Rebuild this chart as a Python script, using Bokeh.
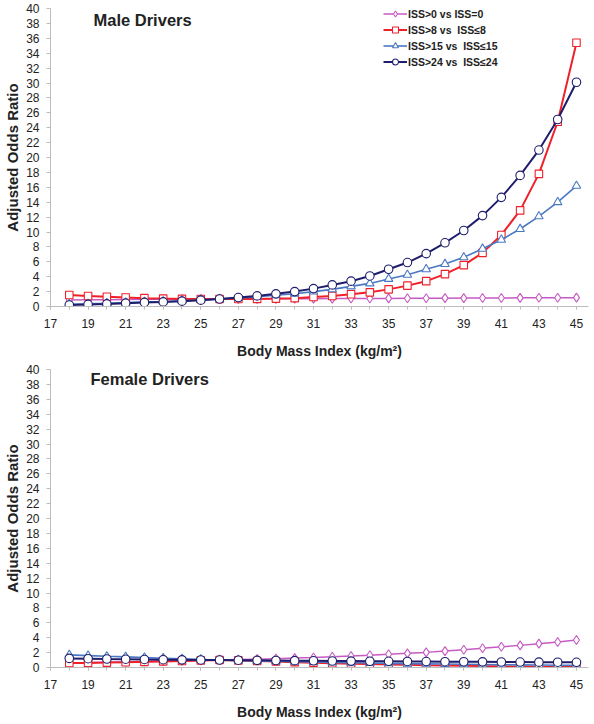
from bokeh.plotting import figure
from bokeh.models import FixedTicker, Legend, LegendItem, Label, Range1d
from bokeh.layouts import column
from bokeh.embed import file_html
from bokeh.resources import INLINE

# ---------------- data ----------------
bmi = list(range(18, 46))

series_labels = ["ISS>0 vs ISS=0", "ISS>8 vs  ISS\u22648",
                 "ISS>15 vs  ISS\u226415", "ISS>24 vs  ISS\u226424"]

male_iss0 = [0.88, 0.90, 0.92, 0.94, 0.96, 0.97, 0.98, 0.99, 1.00, 1.01,
             1.02, 1.03, 1.04, 1.05, 1.06, 1.07, 1.08, 1.09, 1.10, 1.11,
             1.12, 1.13, 1.14, 1.15, 1.16, 1.17, 1.18, 1.19]
male_iss8 = [1.55, 1.40, 1.30, 1.20, 1.12, 1.06, 1.02, 1.00, 1.00, 1.00,
             1.02, 1.06, 1.12, 1.28, 1.40, 1.65, 1.90, 2.30, 2.80, 3.40,
             4.35, 5.55, 7.20, 9.60, 12.9, 17.8, 24.8, 35.4]
male_iss15 = [0.30, 0.36, 0.43, 0.52, 0.60, 0.68, 0.78, 0.88, 1.00, 1.15,
              1.30, 1.50, 1.72, 2.00, 2.30, 2.70, 3.10, 3.70, 4.25, 5.00,
              5.70, 6.60, 7.75, 8.96, 10.4, 12.1, 14.0, 16.2]
male_iss24 = [0.20, 0.28, 0.35, 0.45, 0.55, 0.62, 0.72, 0.85, 1.00, 1.20,
              1.42, 1.70, 2.00, 2.40, 2.90, 3.40, 4.10, 5.00, 5.90, 7.10,
              8.55, 10.2, 12.2, 14.65, 17.6, 21.0, 25.1, 30.1]

female_iss0 = [0.65, 0.68, 0.72, 0.76, 0.80, 0.85, 0.90, 0.95, 1.00, 1.06,
               1.12, 1.19, 1.26, 1.34, 1.45, 1.55, 1.65, 1.78, 1.90, 2.03,
               2.20, 2.38, 2.58, 2.78, 2.97, 3.20, 3.42, 3.70]
female_iss8 = [0.60, 0.62, 0.66, 0.70, 0.76, 0.82, 0.88, 0.94, 1.00, 0.95,
               0.88, 0.80, 0.72, 0.65, 0.58, 0.52, 0.46, 0.41, 0.36, 0.31,
               0.27, 0.23, 0.19, 0.16, 0.13, 0.10, 0.08, 0.06]
female_iss15 = [1.70, 1.60, 1.50, 1.42, 1.33, 1.24, 1.16, 1.08, 1.00, 0.94,
                0.88, 0.83, 0.78, 0.73, 0.68, 0.64, 0.60, 0.56, 0.52, 0.49,
                0.46, 0.43, 0.40, 0.37, 0.35, 0.33, 0.30, 0.28]
female_iss24 = [1.22, 1.18, 1.14, 1.11, 1.08, 1.05, 1.03, 1.01, 1.00, 0.98,
                0.96, 0.94, 0.92, 0.90, 0.88, 0.86, 0.84, 0.83, 0.81, 0.80,
                0.78, 0.77, 0.76, 0.74, 0.73, 0.72, 0.71, 0.70]

x_major_ticks = list(range(17, 46, 2))
x_minor_ticks = list(range(17, 46))
y_ticks = list(range(0, 41, 2))

x_title = "Body Mass Index (kg/m\u00b2)"
y_title = "Adjusted Odds Ratio"

# ---------------- styling ----------------
FONT = "Liberation Sans"
colors = ["#C65BC4", "#F0202A", "#4A78C2", "#1E1E6C"]
markers = ["diamond", "square", "triangle", "circle"]
msizes = [9, 7.5, 8.5, 8.5]
lwidths = [1.5, 2.0, 1.6, 2.0]


def make_fig(title, data, height, b_top, b_bottom, title_pos, legend):
    p = figure(width=594, height=height, output_backend="svg",
               toolbar_location=None, tools="",
               x_range=Range1d(17, 45.64), y_range=Range1d(0, 40),
               min_border_left=50, min_border_right=6,
               min_border_top=b_top, min_border_bottom=b_bottom)
    p.outline_line_color = None
    p.xgrid.visible = False
    p.ygrid.visible = False
    p.background_fill_color = "white"
    p.border_fill_color = "white"

    xa = p.xaxis[0]
    xa.ticker = FixedTicker(ticks=x_major_ticks, minor_ticks=x_minor_ticks)
    xa.axis_line_color = "#BDBDBD"
    xa.major_tick_line_color = "#BDBDBD"
    xa.minor_tick_line_color = "#BDBDBD"
    xa.major_tick_out = 3
    xa.major_tick_in = 0
    xa.minor_tick_out = 3
    xa.minor_tick_in = 0
    xa.major_label_standoff = 9
    xa.major_label_text_font = FONT
    xa.major_label_text_font_size = "12px"
    xa.major_label_text_color = "#222222"
    xa.axis_label = x_title
    xa.axis_label_text_font = FONT
    xa.axis_label_text_font_size = "14px"
    xa.axis_label_text_font_style = "bold"
    xa.axis_label_text_color = "#222222"
    xa.axis_label_standoff = 12

    ya = p.yaxis[0]
    ya.ticker = FixedTicker(ticks=y_ticks)
    ya.axis_line_color = "#BDBDBD"
    ya.major_tick_line_color = "#BDBDBD"
    ya.minor_tick_line_color = None
    ya.major_tick_out = 4
    ya.major_tick_in = 0
    ya.major_label_standoff = 7
    ya.major_label_text_font = FONT
    ya.major_label_text_font_size = "12px"
    ya.major_label_text_color = "#222222"
    ya.axis_label = y_title
    ya.axis_label_text_font = FONT
    ya.axis_label_text_font_size = "15px"
    ya.axis_label_text_font_style = "bold"
    ya.axis_label_text_color = "#222222"
    ya.axis_label_standoff = 2

    items = []
    for i, ys in enumerate(data):
        lr = p.line(bmi, ys, line_color=colors[i], line_width=lwidths[i])
        sr = p.scatter(bmi, ys, marker=markers[i], size=msizes[i],
                       fill_color="white", line_color=colors[i], line_width=1.1)
        items.append(LegendItem(label=series_labels[i], renderers=[lr, sr]))

    if legend:
        leg = Legend(items=items, location=(333, 237))
        leg.background_fill_alpha = 0
        leg.border_line_color = None
        leg.padding = 0
        leg.margin = 0
        leg.spacing = 1
        leg.glyph_width = 24
        leg.glyph_height = 15
        leg.label_height = 15
        leg.label_standoff = 1
        leg.label_text_font = FONT
        leg.label_text_font_size = "10.5px"
        leg.label_text_font_style = "bold"
        leg.label_text_color = "#222222"
        p.add_layout(leg, "center")

    p.add_layout(Label(x=title_pos[0], y=title_pos[1], text=title,
                       text_font=FONT, text_font_size="16.5px",
                       text_font_style="bold", text_color="#222222",
                       text_baseline="middle", text_align="left"))
    return p


p1 = make_fig("Male Drivers", [male_iss0, male_iss8, male_iss15, male_iss24],
              height=361, b_top=8, b_bottom=55, title_pos=(19.29, 38.52),
              legend=True)
p2 = make_fig("Female Drivers", [female_iss0, female_iss8, female_iss15, female_iss24],
              height=363, b_top=8, b_bottom=57, title_pos=(19.13, 38.66),
              legend=False)

layout = column(p1, p2, spacing=0)
open("out.html", "w").write(file_html(layout, INLINE))
